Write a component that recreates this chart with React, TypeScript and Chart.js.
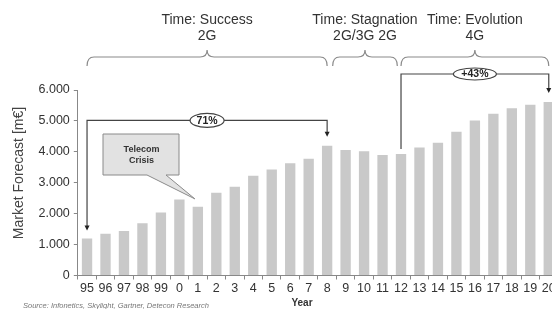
import React, { useEffect, useRef } from "react";
import { Chart, registerables } from "chart.js";

Chart.register(...registerables);

const categories = ["95","96","97","98","99","0","1","2","3","4","5","6","7","8","9","10","11","12","13","14","15","16","17","18","19","20"];
const marketValues = [1200,1350,1440,1690,2040,2460,2220,2680,2870,3230,3430,3630,3780,4200,4060,4020,3900,3930,4140,4290,4650,5010,5230,5410,5520,5610];
const yTicks = [0,1000,2000,3000,4000,5000,6000];
const phaseTitles = [["Time: Success","2G"],["Time: Stagnation","2G/3G 2G"],["Time: Evolution","4G"]];
const phaseRanges = [[0,13],[13.3,16.8],[17,25]];
const growthLabels = ["71%","+43%"];
const growthRanges = [[0,13],[17,25]];
const crisisLabel = ["Telecom","Crisis"];
const crisisIndex = 6;

const W = 558;
const H = 309;

function fmt(v: number) {
  return String(v).replace(/\B(?=(\d{3})+(?!\d))/g, ".");
}

const annotations = {
  id: "annotations",
  afterDraw(chart: any) {
    const ctx = chart.ctx as CanvasRenderingContext2D;
    const x = chart.scales.x;
    const y = chart.scales.y;
    const ca = chart.chartArea;
    const px = (i: number) => x.getPixelForValue(i);
    ctx.save();

    // Phase titles and braces
    ctx.strokeStyle = "#8a8a8a";
    ctx.lineWidth = 1.2;
    phaseRanges.forEach((r, k) => {
      const x1 = px(r[0]);
      const x2 = px(r[1]);
      const xm = (x1 + x2) / 2;
      const yb = ca.top - 24;
      const yh = ca.top - 33;
      const yt = ca.top - 40;
      const rr = 7;
      ctx.beginPath();
      ctx.moveTo(x1, yb);
      ctx.quadraticCurveTo(x1, yh, x1 + rr, yh);
      ctx.lineTo(xm - rr, yh);
      ctx.quadraticCurveTo(xm, yh, xm, yt);
      ctx.quadraticCurveTo(xm, yh, xm + rr, yh);
      ctx.lineTo(x2 - rr, yh);
      ctx.quadraticCurveTo(x2, yh, x2, yb);
      ctx.stroke();

      ctx.fillStyle = "#333";
      ctx.font = "14px Arial, 'Liberation Sans', sans-serif";
      ctx.textAlign = "center";
      ctx.textBaseline = "middle";
      ctx.fillText(phaseTitles[k][0], xm, 20);
      ctx.fillText(phaseTitles[k][1], xm, 36.5);
    });

    // Growth brackets
    const arrowDown = (ax: number, ay: number) => {
      ctx.beginPath();
      ctx.moveTo(ax - 2.5, ay - 5);
      ctx.lineTo(ax + 2.5, ay - 5);
      ctx.lineTo(ax, ay);
      ctx.closePath();
      ctx.fill();
    };
    ctx.strokeStyle = "#444";
    ctx.fillStyle = "#222";
    ctx.lineWidth = 1.2;
    // 71%
    {
      const [a, b] = growthRanges[0];
      const xa = px(a), xb = px(b);
      const yl = y.getPixelForValue(5000) - 0.5;
      const ta = y.getPixelForValue(marketValues[a]) - 8;
      const tb = y.getPixelForValue(marketValues[b]) - 9;
      ctx.beginPath();
      ctx.moveTo(xa, ta - 4);
      ctx.lineTo(xa, yl);
      ctx.lineTo(xb, yl);
      ctx.lineTo(xb, tb - 4);
      ctx.stroke();
      ctx.fillStyle = "#222";
      arrowDown(xa, ta);
      arrowDown(xb, tb);
      const cx = (xa + xb) / 2;
      ctx.beginPath();
      ctx.ellipse(cx, yl, 17, 7, 0, 0, Math.PI * 2);
      ctx.fillStyle = "#fff";
      ctx.fill();
      ctx.stroke();
      ctx.fillStyle = "#222";
      ctx.font = "bold 10.5px Arial, 'Liberation Sans', sans-serif";
      ctx.textAlign = "center";
      ctx.textBaseline = "middle";
      ctx.fillText(growthLabels[0], cx, yl + 0.5);
    }
    // +43%
    {
      const [a, b] = growthRanges[1];
      const xa = px(a), xb = px(b);
      const yl = ca.top - 16;
      const ta = y.getPixelForValue(marketValues[a]) - 5;
      const tb = y.getPixelForValue(marketValues[b]) - 9;
      ctx.beginPath();
      ctx.moveTo(xa, ta);
      ctx.lineTo(xa, yl);
      ctx.lineTo(xb, yl);
      ctx.lineTo(xb, tb - 4);
      ctx.stroke();
      ctx.fillStyle = "#222";
      arrowDown(xb, tb);
      const cx = (xa + xb) / 2;
      ctx.beginPath();
      ctx.ellipse(cx, yl, 21.5, 6, 0, 0, Math.PI * 2);
      ctx.fillStyle = "#fff";
      ctx.fill();
      ctx.stroke();
      ctx.fillStyle = "#222";
      ctx.font = "bold 10.5px Arial, 'Liberation Sans', sans-serif";
      ctx.textAlign = "center";
      ctx.textBaseline = "middle";
      ctx.fillText(growthLabels[1], cx, yl + 0.5);
    }

    // Telecom crisis callout
    {
      const tipX = px(crisisIndex) - 3;
      const tipY = y.getPixelForValue(marketValues[crisisIndex]) - 8;
      const bx1 = 103, bx2 = 179, by1 = 134, by2 = 175;
      ctx.beginPath();
      ctx.moveTo(bx1, by1);
      ctx.lineTo(bx2, by1);
      ctx.lineTo(bx2, by2);
      ctx.lineTo(166, by2);
      ctx.lineTo(tipX, tipY);
      ctx.lineTo(147, by2);
      ctx.lineTo(bx1, by2);
      ctx.closePath();
      ctx.fillStyle = "#e2e2e2";
      ctx.fill();
      ctx.strokeStyle = "#8a8a8a";
      ctx.lineWidth = 1;
      ctx.stroke();
      ctx.fillStyle = "#333";
      ctx.font = "bold 9px Arial, 'Liberation Sans', sans-serif";
      ctx.textAlign = "center";
      ctx.textBaseline = "middle";
      ctx.fillText(crisisLabel[0], 141.5, 150);
      ctx.fillText(crisisLabel[1], 141.5, 161);
    }

    // Axis titles and source
    ctx.fillStyle = "#444";
    ctx.font = "14px Arial, 'Liberation Sans', sans-serif";
    ctx.save();
    ctx.translate(19, 173);
    ctx.rotate(-Math.PI / 2);
    ctx.textAlign = "center";
    ctx.textBaseline = "middle";
    ctx.fillText("Market Forecast [m\u20ac]", 0, 0);
    ctx.restore();

    ctx.fillStyle = "#333";
    ctx.font = "bold 10px Arial, 'Liberation Sans', sans-serif";
    ctx.textAlign = "center";
    ctx.textBaseline = "middle";
    ctx.fillText("Year", 302, 303);

    ctx.fillStyle = "#777";
    ctx.font = "italic 7.5px Arial, 'Liberation Sans', sans-serif";
    ctx.textAlign = "left";
    ctx.fillText("Source: Infonetics, Skylight, Gartner, Detecon Research", 23, 306);

    ctx.restore();
  },
};

export default function App() {
  const ref = useRef<HTMLCanvasElement>(null);
  useEffect(() => {
    document.body.style.margin = "0";
    const chart = new Chart(ref.current!, {
      type: "bar",
      data: {
        labels: categories,
        datasets: [
          {
            data: marketValues,
            backgroundColor: "#c9c9c9",
            borderWidth: 0,
            barPercentage: 0.56,
            categoryPercentage: 1,
          },
        ],
      },
      options: {
        animation: false,
        responsive: false,
        devicePixelRatio: 1,
        layout: { padding: { top: 90, left: 0, right: 0, bottom: 0 } },
        plugins: { legend: { display: false }, tooltip: { enabled: false } },
        scales: {
          x: {
            grid: { display: true, drawOnChartArea: false, offset: true, tickLength: 4, color: "#888" },
            border: { color: "#888", width: 1 },
            ticks: {
              color: "#333",
              font: { family: "Arial, 'Liberation Sans', sans-serif", size: 12.5 },
              padding: 2,
              maxRotation: 0,
              autoSkip: false,
            },
            afterFit: (s: any) => {
              s.height = 33.5;
            },
          },
          y: {
            min: 0,
            max: 6000,
            afterBuildTicks: (s: any) => {
              s.ticks = yTicks.map((v) => ({ value: v }));
            },
            grid: { display: true, drawOnChartArea: false, tickLength: 4, color: "#888" },
            border: { color: "#888", width: 1 },
            ticks: {
              color: "#333",
              font: { family: "Arial, 'Liberation Sans', sans-serif", size: 12.5 },
              padding: 4,
              callback: (v: any) => fmt(Number(v)),
            },
            afterFit: (s: any) => {
              s.width = 77.8;
            },
          },
        },
      },
      plugins: [annotations],
    });
    return () => chart.destroy();
  }, []);
  return (
    <div style={{ width: 552, height: 309, overflow: "hidden", background: "#fff" }}>
      <canvas ref={ref} width={W} height={H} style={{ display: "block", width: W, height: H }} />
    </div>
  );
}
